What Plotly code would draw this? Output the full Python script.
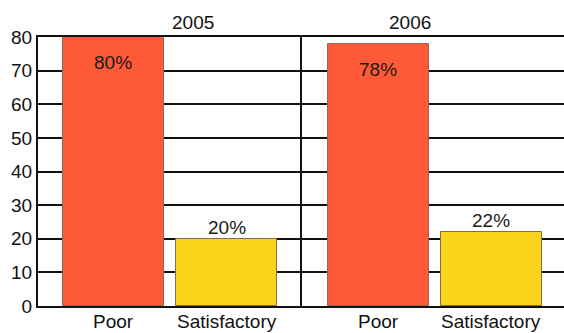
import plotly.graph_objects as go
from plotly.subplots import make_subplots

# Survey results by year
years = ["2005", "2006"]
categories = ["Poor", "Satisfactory"]
values_2005 = [80, 20]
values_2006 = [78, 22]
y_ticks = [0, 10, 20, 30, 40, 50, 60, 70, 80]

bar_colors = ["#FF5A38", "#F9D41A"]
font_family = "Liberation Sans, Arial, sans-serif"
fs = 19

W, H = 564, 333
ml, mr, mt, mb = 38, 0, 37, 27
split = (302 - ml) / (W - ml - mr)

fig = make_subplots(rows=1, cols=2, shared_yaxes=False, horizontal_spacing=0)

for col, vals in enumerate([values_2005, values_2006], start=1):
    xref = f"x{'' if col == 1 else col}"
    yref = f"y{'' if col == 1 else col}"
    fig.add_trace(
        go.Bar(
            x=categories,
            y=vals,
            width=0.89,
            marker=dict(color=bar_colors, line=dict(color="#8a6a50", width=1)),
            showlegend=False,
            hoverinfo="skip",
        ),
        row=1,
        col=col,
    )
    for cat, v in zip(categories, vals):
        # percentage labels: inside the top of the tall bar, above the short one
        inside = v > 50
        fig.add_annotation(
            x=cat, y=v, xref=xref, yref=yref,
            text=f"{v}%",
            showarrow=False,
            yanchor="top" if inside else "bottom",
            yshift=-13 if inside else -1,
            font=dict(size=fs, color="#1a1a1a", family=font_family),
        )
        # category name under the baseline
        fig.add_annotation(
            x=cat, y=0, xref=xref, yref=yref,
            text=cat,
            showarrow=False,
            yanchor="top",
            yshift=-3,
            font=dict(size=fs, color="#111111", family=font_family),
        )

axis_common = dict(
    showline=True,
    linecolor="#111111",
    linewidth=2,
    ticks="",
    automargin=False,
    tickfont=dict(size=fs, color="#111111", family=font_family),
)

fig.update_xaxes(mirror=True, showticklabels=False, **axis_common)
fig.update_xaxes(domain=[0, split], range=[-0.665, 1.661], row=1, col=1)
fig.update_xaxes(domain=[split, 1], range=[-0.677, 1.642], row=1, col=2)

fig.update_yaxes(
    range=[0, 80],
    tickvals=y_ticks,
    showgrid=True,
    gridcolor="#111111",
    gridwidth=2,
    zeroline=False,
    **axis_common,
)
fig.update_yaxes(showticklabels=False, row=1, col=2)

# year headers above each panel
for i, yr in enumerate(years):
    d0, d1 = (0, split) if i == 0 else (split, 1)
    fig.add_annotation(
        x=(d0 + d1) / 2,
        y=1,
        xref="paper",
        yref="paper",
        text=yr,
        showarrow=False,
        yanchor="bottom",
        yshift=2,
        font=dict(size=fs, color="#111111", family=font_family),
    )

fig.update_layout(
    width=W,
    height=H,
    margin=dict(l=ml, r=mr, t=mt, b=mb),
    paper_bgcolor="white",
    plot_bgcolor="white",
    bargap=0,
)

fig.write_html("out.html")
